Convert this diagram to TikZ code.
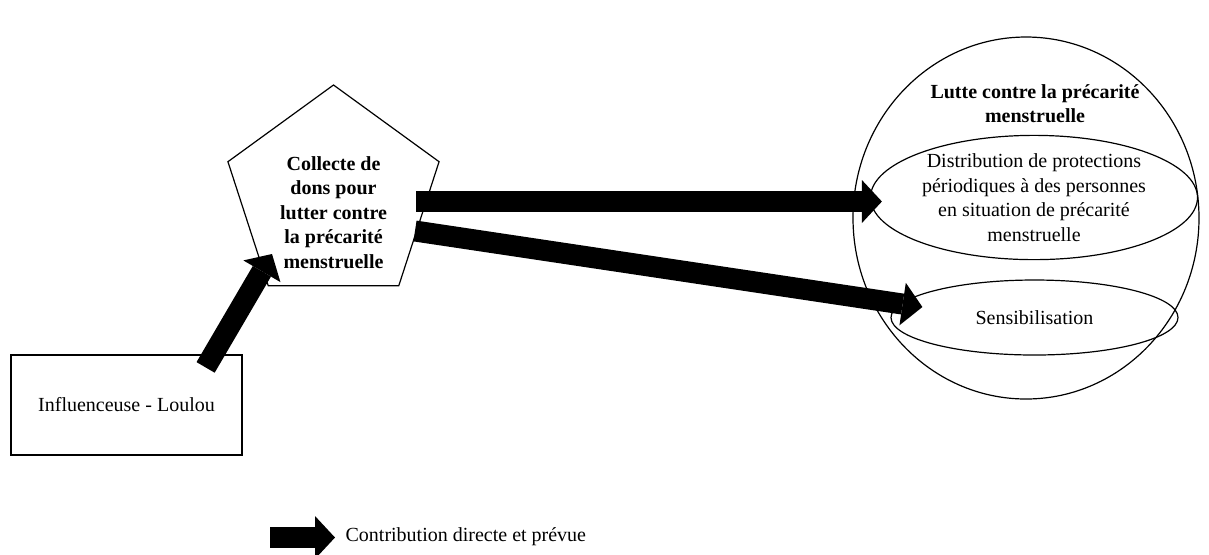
\documentclass[tikz,border=0pt]{standalone}
\usepackage{fontspec}
\setmainfont{Liberation Serif}
\usepackage{tikz}
\usetikzlibrary{arrows.meta,positioning,calc,shapes.geometric}

\begin{document}
\begin{tikzpicture}[x=.5pt,y=-.5pt,line width=.6pt,
  every node/.style={font=\fontsize{10}{12.3}\selectfont,align=center},
  fleche/.style={line width=10.5pt,-{Triangle[length=10pt,width=21.5pt,line width=0pt]}}]
\useasboundingbox (0,0) rectangle (1209,554);
% acteurs
\node[draw,minimum width=115.5pt,minimum height=50pt] (influenceuse) at (126.5,405) {Influenceuse - Loulou};
\node[draw,regular polygon,regular polygon sides=5,minimum size=111pt,inner sep=0pt] (collecte) at (333.5,196) {};
\node[font=\fontsize{10}{12.3}\selectfont\bfseries] (collectetxt) at (333.5,212.5) {Collecte de\\dons pour\\lutter contre\\la précarité\\menstruelle};
% finalites
\node[draw,ellipse,minimum width=173pt,minimum height=181pt,inner sep=0pt] (lutte) at (1026,218) {};
\node[font=\fontsize{10}{12.3}\selectfont\bfseries] (luttetxt) at (1035,103.5) {Lutte contre la précarité\\menstruelle};
\node[draw,ellipse,minimum width=163.5pt,minimum height=56.5pt,inner sep=0pt] (distribution) at (1034,197.5) {Distribution de protections\\périodiques à des personnes\\en situation de précarité\\menstruelle};
\node[draw,ellipse,minimum width=143.5pt,minimum height=37.5pt,inner sep=0pt] (sensibilisation) at (1034.5,317.5) {Sensibilisation};
% contributions
\draw[fleche] ($(influenceuse.north east)+(-37,13)$) -- ($(collecte.center)+(-61.5,58)$);
\draw[fleche] ($(collecte.center)+(82.5,5.5)$) -- ($(distribution.west)+(12,4)$);
\draw[fleche] ($(collecte.center)+(81.5,35)$) -- ($(sensibilisation.west)+(32,-10.5)$);
% legende
\node[anchor=west,inner sep=0pt] (legende) at (345,537) {Contribution directe et prévue};
\draw[fleche] ($(legende.west)+(-75,.5)$) -- ($(legende.west)+(-10,.5)$);
\end{tikzpicture}
\end{document}
